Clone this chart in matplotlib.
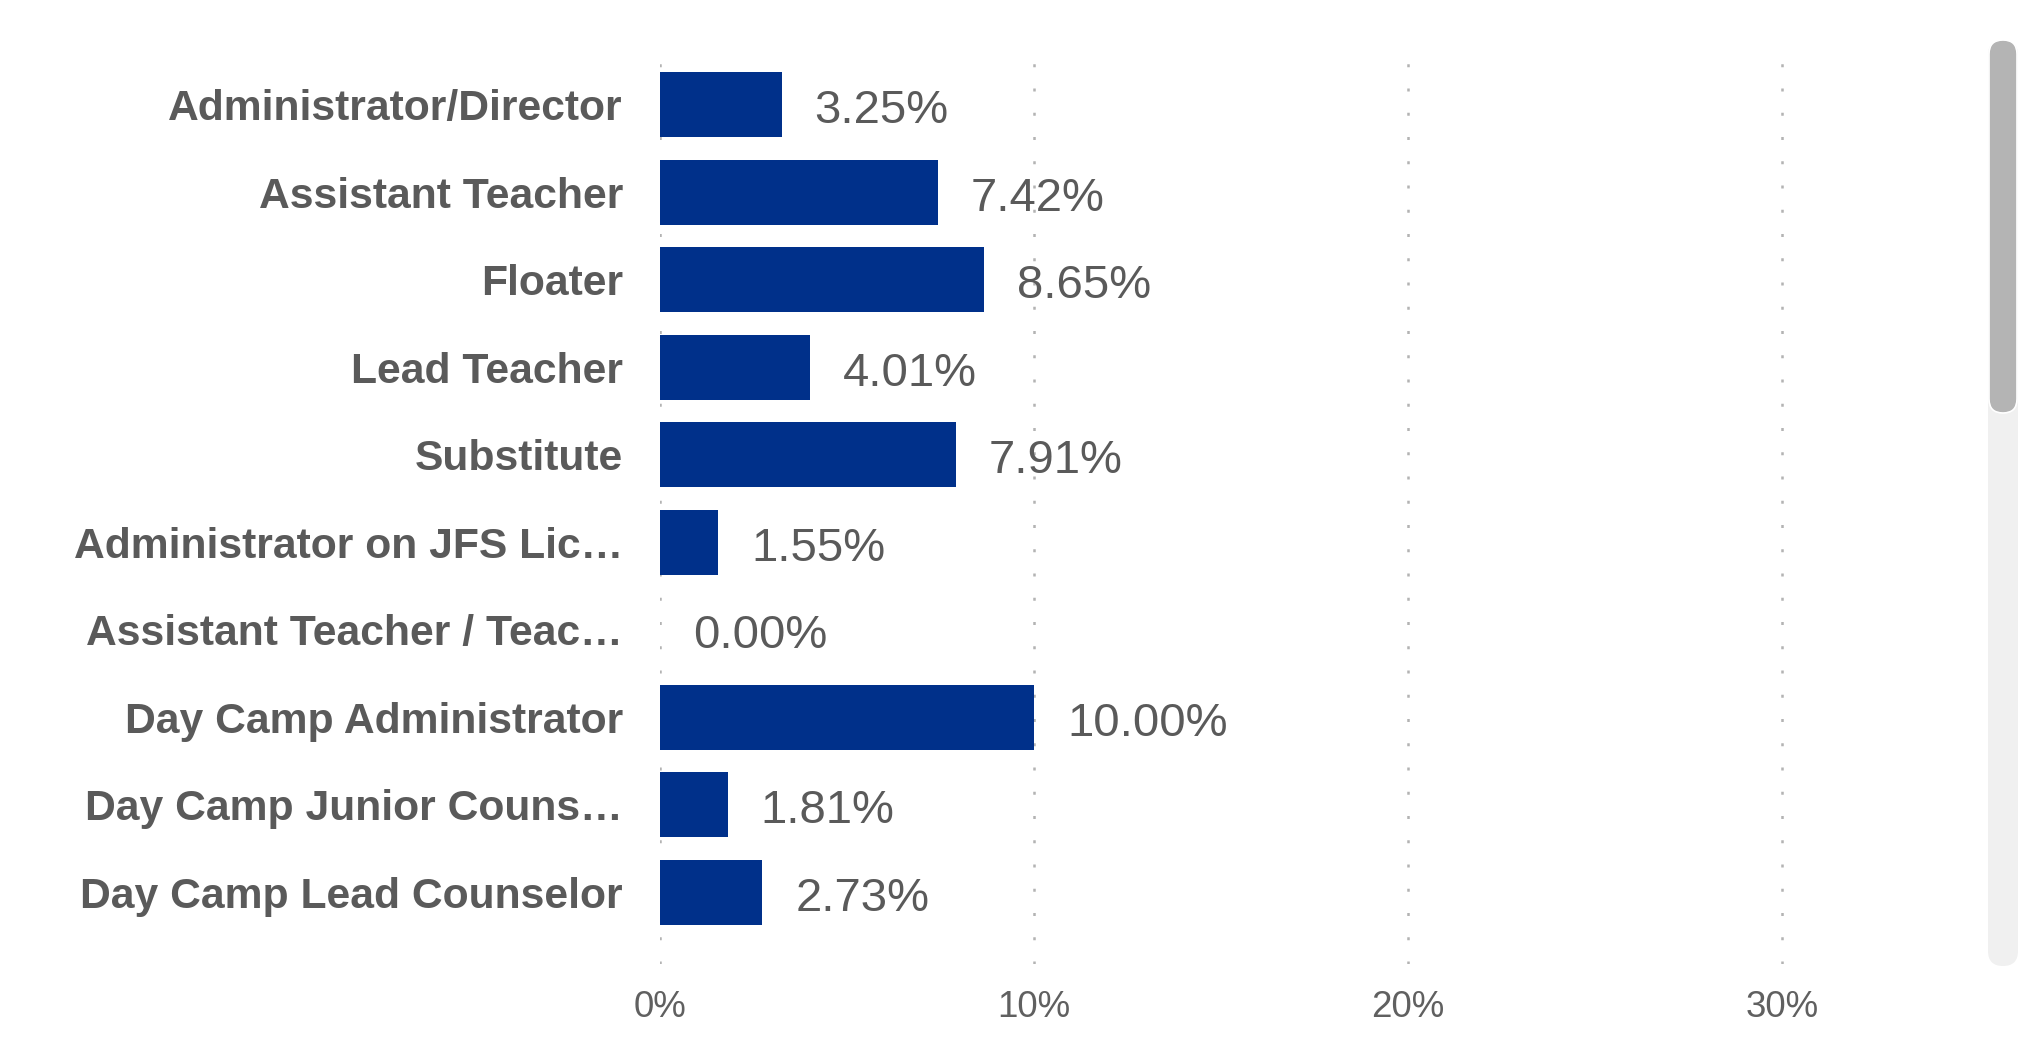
import matplotlib
matplotlib.use("Agg")
import matplotlib.pyplot as plt
from matplotlib.patches import FancyBboxPatch
from matplotlib.transforms import IdentityTransform
from matplotlib.ticker import FuncFormatter

categories = [
    "Administrator/Director",
    "Assistant Teacher",
    "Floater",
    "Lead Teacher",
    "Substitute",
    "Administrator on JFS Lic…",
    "Assistant Teacher / Teac…",
    "Day Camp Administrator",
    "Day Camp Junior Couns…",
    "Day Camp Lead Counselor",
]
values = [3.25, 7.42, 8.65, 4.01, 7.91, 1.55, 0.00, 10.00, 1.81, 2.73]
xticks = [0, 10, 20, 30]

plt.rcParams['font.family'] = ['Liberation Sans', 'DejaVu Sans']

W, H = 2021, 1049
fig = plt.figure(figsize=(W / 100, H / 100), dpi=100)
fig.patch.set_facecolor('white')

left_px, right_px = 660, 1969
top_px, bottom_px = 51.7, 964
ax = fig.add_axes([left_px / W, (H - bottom_px) / H,
                   (right_px - left_px) / W, (bottom_px - top_px) / H])

bar_color = '#00308A'
text_color = '#5a5a5a'

ypos = list(range(len(categories)))
ax.barh(ypos, values, height=0.743, color=bar_color, zorder=3)

for y, v in zip(ypos, values):
    ax.annotate(f"{v:.2f}%", xy=(v, y), xytext=(23.8, -4.5), textcoords='offset points',
                ha='left', va='center', fontsize=34, color=text_color, zorder=4)

ax.set_xlim(0, 35)
ax.set_ylim(9.817, -0.607)
ax.set_yticks(ypos)
ax.set_yticklabels(categories, fontsize=30.7, fontweight='bold', color=text_color)
ax.set_xticks(xticks)
ax.xaxis.set_major_formatter(FuncFormatter(lambda x, p: f"{int(x)}%"))
ax.tick_params(axis='x', labelsize=26.5, labelcolor='#606060', length=0, pad=18.5)
ax.tick_params(axis='y', length=0, pad=26.6)

ax.grid(axis='x', color='#b3b3b3', linewidth=1.8, linestyle=(0, (1.2, 8.5)), zorder=0)
ax.grid(axis='y', visible=False)
for s in ax.spines.values():
    s.set_visible(False)
ax.set_facecolor('none')

# scrollbar decoration
track = FancyBboxPatch((1988, H - 966), 30, 966 - 40,
                       boxstyle="round,pad=0,rounding_size=15",
                       transform=IdentityTransform(), facecolor='#f0f0f0',
                       edgecolor='none')
thumb = FancyBboxPatch((1989, H - 413), 28, 413 - 40,
                       boxstyle="round,pad=0,rounding_size=14",
                       transform=IdentityTransform(), facecolor='#b4b4b4',
                       edgecolor='white', linewidth=1.2)
fig.add_artist(track)
fig.add_artist(thumb)

fig.savefig("out.png", dpi=100)
